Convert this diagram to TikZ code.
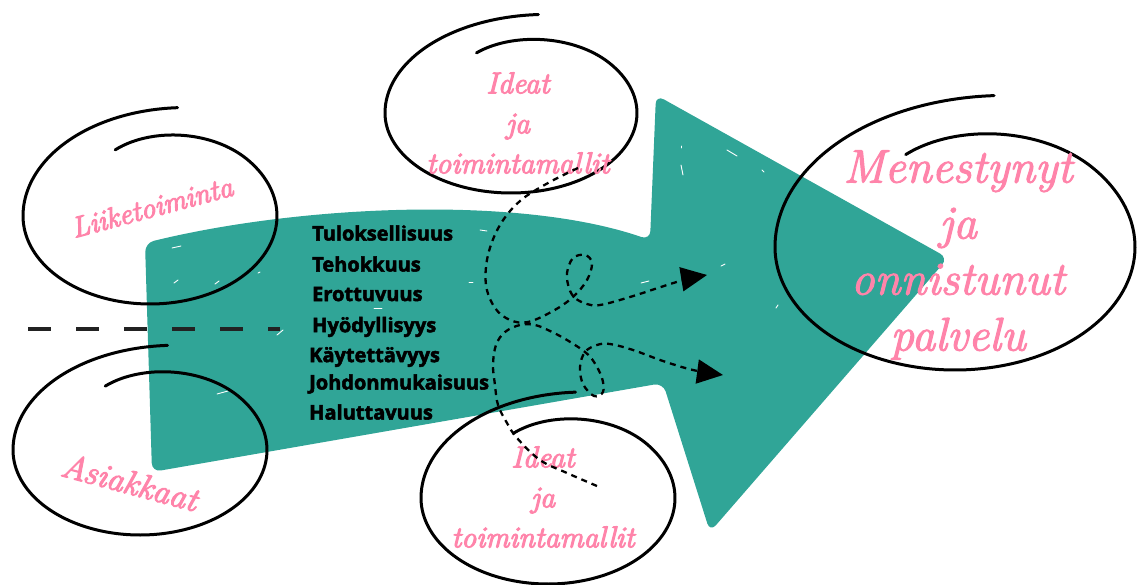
\documentclass[tikz,border=0pt]{standalone}
\usepackage{fontspec}
\usepackage{tikz}
\usetikzlibrary{arrows.meta,positioning}
\usepackage{xcolor}
\newfontfamily\listfont{Open Sans}
\definecolor{arrowteal}{RGB}{48,165,151}
\definecolor{scriptpink}{RGB}{255,132,170}
\definecolor{dashgray}{RGB}{34,34,34}
\newcommand{\inked}{\special{pdf:literal direct 2 Tr 1.1 w}}
\newcommand{\heavier}{\special{pdf:literal direct 2 Tr 0.5 w}}
\newcommand{\loopring}[4]{%
  \draw[ring] plot[domain=-110:280, samples=160, smooth]
    ({#1+#3*(1-0.2*pow(max(0,1-(\x+110)/70),2)+0.25*pow(max(0,1-(280-\x)/100),2))*cos(\x)},
     {#2+#4*(1-0.2*pow(max(0,1-(\x+110)/70),2)+0.25*pow(max(0,1-(280-\x)/100),2))*sin(\x)});}

\begin{document}
\begin{tikzpicture}[
  x=1pt, y=-1pt,
  ring/.style={draw=black, line width=3pt, line cap=round},
  idea/.style={text=scriptpink, align=center, inner sep=0pt, font=\inked\fontsize{30}{40}\selectfont\itshape},
  bigidea/.style={idea, font=\inked\fontsize{47}{56}\selectfont\itshape},
  quality/.style={anchor=west, inner sep=0pt, font=\heavier\listfont\bfseries\fontsize{20}{22}\selectfont},
  flow/.style={line width=2.3pt, dash pattern=on 6pt off 5pt, -{Triangle[length=26pt,width=24pt]}},
  split/.style={dashgray, line width=4pt, dash pattern=on 23pt off 25pt},
  scratch/.style={white, line width=0.9pt, line cap=round}
]
\useasboundingbox (0,0) rectangle (1141,584);

\fill[arrowteal, rounded corners=9pt] (152,472) -- (145,243) .. controls (300,205) and (520,195) .. (650,240)
  -- (656,95) -- (948,258) -- (710,532) -- (663,383) -- cycle;

\draw[scratch] (172,248) -- (181,246);
\draw[scratch] (174,283) -- (178,280);
\draw[scratch] (215,284) -- (219,281);
\draw[scratch] (258,273) -- (260,272);
\draw[scratch] (277,335) -- (283,330);
\draw[scratch] (217,394) -- (228,391);
\draw[scratch] (480,230) -- (487,231);
\draw[scratch] (469,282) -- (473,282);
\draw[scratch] (374,308) -- (382,308);
\draw[scratch] (641,283) -- (649,281);
\draw[scratch] (721,266) -- (725,264);
\draw[scratch] (681,146) -- (681,148);
\draw[scratch] (681,165) -- (683,175);
\draw[scratch] (727,150) -- (737,156);
\draw[scratch] (762,170) -- (764,172);
\draw[scratch] (776,308) -- (778,305);

\coordinate (split west) at (28,329);
\coordinate (split east) at (280,329);
\draw[split] (split west) -- (split east);

\loopring{150}{216}{127}{88}
\loopring{140}{450}{127}{85}
\loopring{511}{113}{126}{80}
\loopring{548}{498}{127}{86}
\loopring{955}{247}{180}{123}

\node[idea, rotate=15, font=\inked\fontsize{29}{40}\selectfont\itshape] (business) at (152,207) {Liiketoiminta};
\node[idea, rotate=-15, font=\inked\fontsize{34}{40}\selectfont\itshape] (customers) at (130,482) {Asiakkaat};
\node[idea] (ideas top) at (518,123) {Ideat\\ja\\toimintamallit};
\node[idea] (ideas bottom) at (543,497) {Ideat\\ja\\toimintamallit};
\node[bigidea] (success) at (958,255) {Menestynyt\\ja\\onnistunut\\palvelu};

\node[quality] (profit) at (312,233) {Tuloksellisuus};
\node[quality, below=31pt of profit.west, anchor=west] (efficiency) {Tehokkuus};
\node[quality, below=30pt of efficiency.west, anchor=west] (distinct) {Erottuvuus};
\node[quality, below=33pt of distinct.west, anchor=west] (utility) {Hyödyllisyys};
\node[quality, below=30pt of utility.west, anchor=west, xshift=-3pt] (usability) {Käytettävyys};
\node[quality, below=27pt of usability.west, anchor=west] (consistency) {Johdonmukaisuus};
\node[quality, below=28pt of consistency.west, anchor=west] (desirability) {Haluttavuus};

\coordinate (flow1 start) at (578,168);
\coordinate (flow1 end) at (707,275);
\coordinate (flow2 start) at (597,486);
\coordinate (flow2 end) at (723,375);

\draw[flow] plot[smooth, tension=0.6] coordinates {(flow1 start) (548,183) (520,201) (500,225) (488,255) (486,285)
  (495,308) (510,320) (528,322) (553,311) (573,297) (587,280) (592,263) (585,255) (573,258) (567,273) (569,288)
  (575,298) (587,304) (600,305) (630,297) (680,281) (flow1 end)};
\draw[flow] plot[smooth, tension=0.6] coordinates {(flow2 start) (567,473) (540,460) (517,438) (507,423) (498,405)
  (495,385) (493,365) (496,345) (505,332) (520,325) (535,325) (550,331) (567,340) (585,352) (594,362) (602,378)
  (603,392) (594,396) (583,384) (580,367) (585,352) (597,345) (610,344) (633,350) (663,361) (693,370) (flow2 end)};
\end{tikzpicture}
\end{document}
